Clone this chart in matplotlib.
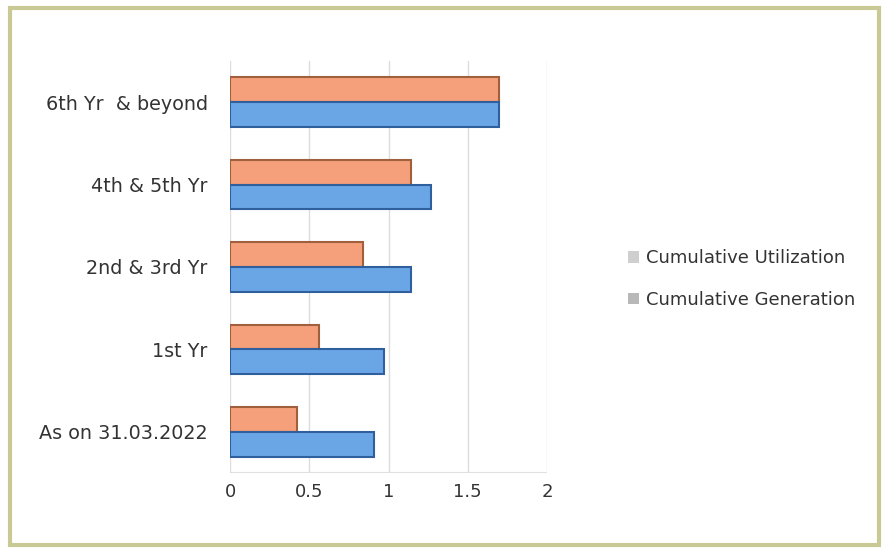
import matplotlib
matplotlib.use("Agg")
import matplotlib.pyplot as plt
from matplotlib.patches import Rectangle, Patch
import numpy as np

categories = ["As on 31.03.2022", "1st Yr", "2nd & 3rd Yr", "4th & 5th Yr", "6th Yr  & beyond"]
utilization = [0.42, 0.56, 0.84, 1.14, 1.70]
generation = [0.91, 0.97, 1.14, 1.27, 1.70]
xticks = [0, 0.5, 1, 1.5, 2]
xticklabels = ["0", "0.5", "1", "1.5", "2"]
series_names = ["Cumulative Utilization", "Cumulative Generation"]

plt.rcParams['font.family'] = ['DejaVu Sans']

fig = plt.figure(figsize=(8.89, 5.52), dpi=100)
fig.patch.set_facecolor("white")
fig.add_artist(Rectangle((0.011, 0.013), 0.978, 0.972, transform=fig.transFigure,
                         fill=False, edgecolor="#c8c994", linewidth=3))

ax = fig.add_axes([230/889, 1-473/552, 317/889, (473-61)/552])
y = np.arange(len(categories))
h = 0.3
ax.barh(y + h/2, utilization, height=h, color="#f5a07a", edgecolor="#a0603e", linewidth=1.5, zorder=3)
ax.barh(y - h/2, generation, height=h, color="#6aa6e6", edgecolor="#2f5f9c", linewidth=1.5, zorder=3)

ax.set_xlim(0, 2.0)
ax.set_ylim(-0.5, len(categories) - 0.5)
ax.set_xticks(xticks)
ax.set_xticklabels(xticklabels, fontsize=13, color="#333333")
ax.set_yticks(y)
ax.set_yticklabels(categories, fontsize=13.8, color="#333333")
ax.tick_params(axis='x', length=0, pad=7)
ax.tick_params(axis='y', length=0, pad=16)
ax.xaxis.grid(True, color="#dcdcdc", linewidth=1, zorder=0)
for s in ax.spines.values():
    s.set_visible(False)
ax.axhline(-0.5, color="#e0e0e0", linewidth=1.5, zorder=1)

handles = [Patch(facecolor="#cfcfcf", edgecolor="none"), Patch(facecolor="#b8b8b8", edgecolor="none")]
fig.legend(handles, series_names, loc="center left", bbox_to_anchor=(612/889, 1-279/552),
           frameon=False, fontsize=13, handlelength=0.6, handleheight=0.6,
           handletextpad=0.4, labelspacing=1.3, labelcolor="#333333")

fig.savefig("out.png", dpi=100)
